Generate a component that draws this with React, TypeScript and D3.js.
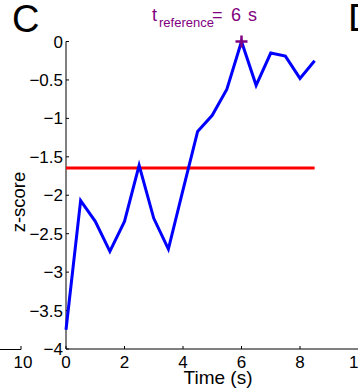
import React from "react";
import * as d3 from "d3";

const times = [0, 0.5, 1, 1.5, 2, 2.5, 3, 3.5, 4, 4.5, 5, 5.5, 6, 6.5, 7, 7.5, 8, 8.5];
const zscores = [-3.75, -2.07, -2.34, -2.73, -2.34, -1.61, -2.3, -2.7, -1.93, -1.17, -0.96, -0.62, 0, -0.57, -0.15, -0.19, -0.48, -0.25];
const threshold = -1.645;
const thresholdRange = [0, 8.5];
const referenceTime = 6;
const referenceZ = 0;
const xTicks = [0, 2, 4, 6, 8, 10];
const yTicks = [0, -0.5, -1, -1.5, -2, -2.5, -3, -3.5, -4];

const W = 358;
const H = 392;
const FONT = "Arial, 'Liberation Sans', Helvetica, sans-serif";

export default function App() {
  const x = d3.scaleLinear().domain([0, 10]).range([66, 358.5]);
  const y = d3.scaleLinear().domain([-4, 0]).range([349, 41.5]);
  const line = d3
    .line<number>()
    .x((_, i) => x(times[i]))
    .y((d) => y(d));
  const fmt = (v: number) => (v < 0 ? "\u2212" + String(Math.abs(v)) : String(v));
  const purple = "#800080";
  const mx = x(referenceTime);
  const my = y(referenceZ);
  return (
    <svg
      width={W}
      height={H}
      style={{ position: "absolute", left: 0, top: 0, background: "#fff" }}
      fontFamily={FONT}
    >
      {/* panel letters */}
      <text x={12} y={32} fontSize={38} fill="#000">C</text>
      <text x={348} y={31} fontSize={38} fill="#000">D</text>

      {/* neighbouring panel remnants */}
      <line x1={0} x2={21} y1={349.5} y2={349.5} stroke="#000" strokeWidth={1} />
      <line x1={21} x2={21} y1={346} y2={349.5} stroke="#000" strokeWidth={1} />
      <text x={23} y={368} fontSize={17} textAnchor="middle" fill="#000">10</text>
      <text
        transform={`translate(369,204) rotate(-90)`}
        fontSize={18}
        textAnchor="middle"
        fill="#999"
      >
        z-score
      </text>

      {/* title */}
      <text y={21} fontSize={18} fill={purple}>
        <tspan x={152}>t</tspan>
        <tspan x={159} dy={6} fontSize={13}>reference</tspan>
        <tspan x={212} dy={-6}>=</tspan>
        <tspan x={231}>6</tspan>
        <tspan x={248}>s</tspan>
      </text>

      {/* axes */}
      <line x1={66} x2={66} y1={y(0)} y2={y(-4)} stroke="#000" strokeWidth={1} />
      <line x1={66} x2={W} y1={y(-4)} y2={y(-4)} stroke="#000" strokeWidth={1} />
      {yTicks.map((t) => (
        <g key={"y" + t}>
          <line x1={66} x2={69} y1={y(t)} y2={y(t)} stroke="#000" strokeWidth={1} />
          <text x={63} y={y(t) + 6} fontSize={17} textAnchor="end" fill="#000">
            {fmt(t)}
          </text>
        </g>
      ))}
      {xTicks.map((t) => (
        <g key={"x" + t}>
          <line x1={x(t)} x2={x(t)} y1={y(-4)} y2={y(-4) - 3} stroke="#000" strokeWidth={1} />
          <text x={x(t)} y={368} fontSize={17} textAnchor="middle" fill="#000">
            {fmt(t)}
          </text>
        </g>
      ))}
      <text x={218} y={384} fontSize={19} textAnchor="middle" fill="#000">Time (s)</text>
      <text
        transform={`translate(25,202) rotate(-90)`}
        fontSize={18.5}
        textAnchor="middle"
        fill="#000"
      >
        z-score
      </text>

      {/* threshold */}
      <line
        x1={x(thresholdRange[0])}
        x2={x(thresholdRange[1])}
        y1={y(threshold)}
        y2={y(threshold)}
        stroke="#ff0000"
        strokeWidth={3}
      />
      {/* data */}
      <path d={line(zscores) || ""} fill="none" stroke="#0000ff" strokeWidth={3} strokeLinejoin="miter" />
      {/* reference marker */}
      <path
        d={`M${mx - 6},${my}H${mx + 6}M${mx},${my - 6}V${my + 6}`}
        stroke={purple}
        strokeWidth={2.5}
      />
    </svg>
  );
}
